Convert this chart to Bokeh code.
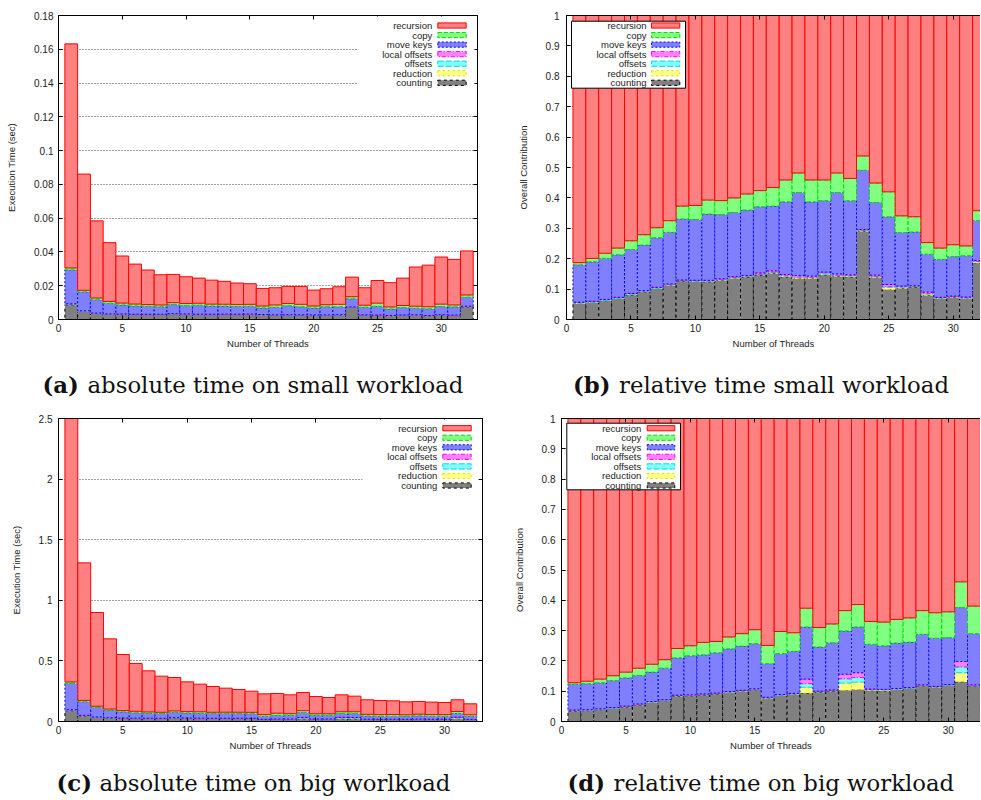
import numpy as np
from bokeh.plotting import figure
from bokeh.models import Range1d, LinearAxis, FixedTicker, BoxAnnotation, Label, ColumnDataSource
from bokeh.layouts import column, row
from bokeh.embed import file_html
from bokeh.resources import INLINE

# ---------------- data ----------------
THREADS = list(range(1, 33))
SERIES = ["counting", "reduction", "offsets", "local_offsets", "move_keys", "copy", "recursion"]
SERIES_LABELS = {"counting": "counting", "reduction": "reduction", "offsets": "offsets",
                 "local_offsets": "local offsets", "move_keys": "move keys", "copy": "copy",
                 "recursion": "recursion"}

X_TICKS = [0, 5, 10, 15, 20, 25, 30]
X_TICK_LABELS = ["0", "5", "10", "15", "20", "25", "30"]
Y_TICKS_SMALL = [0, 0.02, 0.04, 0.06, 0.08, 0.1, 0.12, 0.14, 0.16, 0.18]
Y_LABELS_SMALL = ["0", "0.02", "0.04", "0.06", "0.08", "0.1", "0.12", "0.14", "0.16", "0.18"]
Y_TICKS_BIG = [0, 0.5, 1, 1.5, 2, 2.5]
Y_LABELS_BIG = ["0", "0.5", "1", "1.5", "2", "2.5"]
Y_TICKS_REL = [0, 0.1, 0.2, 0.3, 0.4, 0.5, 0.6, 0.7, 0.8, 0.9, 1]
Y_LABELS_REL = ["0", "0.1", "0.2", "0.3", "0.4", "0.5", "0.6", "0.7", "0.8", "0.9", "1"]

# small workload: share of each phase (panel b) and total time in seconds (panel a)
small_counting = [0.053, 0.056, 0.062, 0.069, 0.081, 0.091, 0.102, 0.113, 0.127, 0.125, 0.124, 0.129,
                  0.135, 0.140, 0.146, 0.152, 0.140, 0.135, 0.135, 0.147, 0.142, 0.140, 0.290, 0.138,
                  0.099, 0.103, 0.107, 0.080, 0.069, 0.073, 0.069, 0.186]
small_reduction = [0.001, 0.001, 0.001, 0.001, 0.001, 0.001, 0.001, 0.001, 0.001, 0.001, 0.002, 0.002,
                   0.002, 0.002, 0.002, 0.003, 0.003, 0.004, 0.003, 0.002, 0.003, 0.003, 0.003, 0.003,
                   0.007, 0.003, 0.002, 0.004, 0.002, 0.002, 0.002, 0.004]
small_offsets = [0.002, 0.002, 0.002, 0.002, 0.003, 0.002, 0.002, 0.002, 0.001, 0.002, 0.001, 0.001,
                 0.001, 0.001, 0.001, 0.001, 0.001, 0.001, 0.001, 0.004, 0.001, 0.001, 0.001, 0.001,
                 0.002, 0.002, 0.001, 0.001, 0.001, 0.001, 0.001, 0.001]
small_local_offsets = [0.001, 0.001, 0.001, 0.001, 0.001, 0.001, 0.001, 0.001, 0.001, 0.001, 0.002, 0.002,
                       0.003, 0.002, 0.004, 0.004, 0.004, 0.005, 0.004, 0.003, 0.004, 0.003, 0.002, 0.004,
                       0.007, 0.002, 0.001, 0.005, 0.001, 0.001, 0.002, 0.003]
small_move_keys = [0.123, 0.130, 0.135, 0.140, 0.144, 0.150, 0.163, 0.170, 0.201, 0.200, 0.218, 0.211,
                   0.211, 0.215, 0.218, 0.213, 0.239, 0.273, 0.244, 0.235, 0.268, 0.244, 0.195, 0.239,
                   0.223, 0.176, 0.177, 0.125, 0.125, 0.130, 0.136, 0.132]
small_copy = [0.007, 0.011, 0.017, 0.022, 0.029, 0.034, 0.033, 0.038, 0.042, 0.046, 0.046, 0.046,
              0.048, 0.053, 0.053, 0.061, 0.072, 0.064, 0.072, 0.068, 0.064, 0.073, 0.047, 0.064,
              0.082, 0.055, 0.050, 0.038, 0.037, 0.039, 0.032, 0.032]
small_recursion = [0.813, 0.799, 0.782, 0.765, 0.741, 0.721, 0.698, 0.675, 0.627, 0.625, 0.607, 0.609,
                   0.600, 0.587, 0.576, 0.566, 0.541, 0.518, 0.541, 0.541, 0.518, 0.536, 0.462, 0.551,
                   0.580, 0.659, 0.662, 0.747, 0.765, 0.754, 0.758, 0.642]
small_total_sec = [0.1632, 0.0861, 0.0584, 0.0455, 0.0376, 0.0328, 0.0293, 0.0265, 0.0267, 0.0253,
                   0.0245, 0.0233, 0.0226, 0.0216, 0.0212, 0.0184, 0.0188, 0.0196, 0.0196, 0.0174,
                   0.0182, 0.0194, 0.0251, 0.0188, 0.0231, 0.0218, 0.0245, 0.0311, 0.0322, 0.0370,
                   0.0356, 0.0406]

# big workload: share of each phase (panel d) and total time in seconds (panel c)
big_counting = [0.035, 0.036, 0.039, 0.043, 0.048, 0.055, 0.063, 0.069, 0.084, 0.085, 0.088, 0.091,
                0.096, 0.100, 0.105, 0.077, 0.086, 0.090, 0.094, 0.097, 0.101, 0.103, 0.106, 0.102,
                0.101, 0.106, 0.109, 0.118, 0.113, 0.119, 0.131, 0.118]
big_reduction = [0.001, 0.001, 0.001, 0.001, 0.001, 0.001, 0.001, 0.001, 0.001, 0.001, 0.001, 0.001,
                 0.001, 0.001, 0.001, 0.001, 0.001, 0.001, 0.019, 0.001, 0.001, 0.024, 0.024, 0.003,
                 0.003, 0.001, 0.001, 0.001, 0.001, 0.001, 0.030, 0.001]
big_offsets = [0.001, 0.001, 0.001, 0.001, 0.001, 0.001, 0.001, 0.001, 0.001, 0.001, 0.001, 0.001,
               0.001, 0.001, 0.001, 0.001, 0.001, 0.001, 0.012, 0.001, 0.001, 0.014, 0.015, 0.001,
               0.001, 0.001, 0.001, 0.001, 0.001, 0.001, 0.019, 0.001]
big_local_offsets = [0.001, 0.001, 0.001, 0.001, 0.001, 0.001, 0.001, 0.001, 0.001, 0.001, 0.001, 0.001,
                     0.001, 0.001, 0.001, 0.001, 0.001, 0.001, 0.015, 0.001, 0.001, 0.015, 0.016, 0.001,
                     0.001, 0.001, 0.001, 0.001, 0.001, 0.001, 0.018, 0.001]
big_move_keys = [0.085, 0.086, 0.086, 0.089, 0.093, 0.094, 0.097, 0.104, 0.123, 0.129, 0.129, 0.133,
                 0.141, 0.146, 0.149, 0.111, 0.135, 0.139, 0.172, 0.146, 0.156, 0.143, 0.151, 0.148,
                 0.144, 0.150, 0.150, 0.167, 0.159, 0.155, 0.178, 0.169]
big_copy = [0.005, 0.008, 0.012, 0.016, 0.019, 0.024, 0.026, 0.028, 0.031, 0.033, 0.041, 0.037,
            0.039, 0.041, 0.046, 0.060, 0.073, 0.061, 0.062, 0.064, 0.062, 0.067, 0.074, 0.075,
            0.078, 0.078, 0.080, 0.078, 0.084, 0.085, 0.085, 0.091]
big_recursion = [0.872, 0.867, 0.860, 0.849, 0.837, 0.824, 0.811, 0.796, 0.759, 0.750, 0.739, 0.736,
                 0.721, 0.710, 0.697, 0.749, 0.703, 0.707, 0.626, 0.690, 0.678, 0.634, 0.614, 0.670,
                 0.672, 0.663, 0.658, 0.634, 0.641, 0.638, 0.539, 0.619]
big_total_sec = [2.55, 1.309, 0.899, 0.682, 0.553, 0.479, 0.418, 0.374, 0.363, 0.327, 0.308, 0.289,
                 0.275, 0.264, 0.250, 0.228, 0.231, 0.220, 0.239, 0.206, 0.198, 0.220, 0.209, 0.179,
                 0.173, 0.171, 0.162, 0.165, 0.160, 0.157, 0.179, 0.146]

small_share = dict(zip(SERIES, [small_counting, small_reduction, small_offsets, small_local_offsets,
                                small_move_keys, small_copy, small_recursion]))
big_share = dict(zip(SERIES, [big_counting, big_reduction, big_offsets, big_local_offsets,
                              big_move_keys, big_copy, big_recursion]))

# ---------------- styles ----------------
STYLE = {  # fill, line, dash
    "recursion": ("#ff8080", "#ff0000", "solid"),
    "copy": ("#80ff80", "#00dd00", "4 2"),
    "move_keys": ("#8080ff", "#0000ff", "2 2"),
    "local_offsets": ("#ff80ff", "#ff00ff", "4 2 1 2"),
    "offsets": ("#80ffff", "#00dddd", "6 2"),
    "reduction": ("#ffff80", "#dddd00", "2 3"),
    "counting": ("#808080", "#000000", "3 3"),
}
SANS = "Liberation Sans"
SERIF = "DejaVu Serif"
CAPTION_SIZE = "22.8px"


def absolute(share, total):
    t = np.array(total)
    return {k: np.array(v) * t for k, v in share.items()}


def relative(share):
    s = sum(np.array(v) for v in share.values())
    return {k: np.array(v) / s for k, v in share.items()}


def style_axis(ax):
    ax.major_tick_in = 4
    ax.major_tick_out = 0
    ax.minor_tick_line_color = None
    ax.axis_line_color = "black"
    ax.axis_line_width = 1
    ax.major_tick_line_color = "black"
    ax.major_label_text_font = SANS
    ax.major_label_text_font_size = "10px"
    ax.major_label_text_color = "#222222"
    ax.axis_label_text_font = SANS
    ax.axis_label_text_font_size = "9.5px"
    ax.axis_label_text_font_style = "normal"
    ax.axis_label_text_color = "#222222"


def make_panel(values, spec, ylabel, yticks, ylabels, leg):
    fl, ft, fw, fh = spec["frame"]
    x1, y1 = spec["x1"], spec["y1"]
    p = figure(width=spec["w"], height=spec["h"], x_range=Range1d(0, x1), y_range=Range1d(0, y1),
               output_backend="svg", toolbar_location=None, title=None,
               min_border_left=spec["bl"], min_border_right=spec["br"],
               min_border_top=spec["bt"], min_border_bottom=spec["bb"])
    p.outline_line_color = "black" if spec["outline"] else None
    p.background_fill_color = "white"
    p.border_fill_color = "white"

    xt = FixedTicker(ticks=X_TICKS)
    yt = FixedTicker(ticks=yticks)

    xa = p.xaxis[0]
    xa.ticker = xt
    xa.major_label_overrides = dict(zip(X_TICKS, X_TICK_LABELS))
    xa.axis_label = "Number of Threads"
    style_axis(xa)
    xa.major_label_standoff = 4
    xa.axis_label_standoff = 3

    ya = p.yaxis[0]
    ya.ticker = yt
    ya.major_label_overrides = dict(zip(yticks, ylabels))
    ya.axis_label = ylabel
    style_axis(ya)
    ya.major_label_standoff = spec["ystand"]
    ya.axis_label_standoff = 14

    top = LinearAxis(ticker=xt, major_label_overrides={t: "" for t in X_TICKS})
    style_axis(top)
    top.major_label_standoff = 0
    p.add_layout(top, "above")
    if spec["right_axis"]:
        ra = LinearAxis(ticker=yt, major_label_overrides={t: "" for t in yticks})
        style_axis(ra)
        ra.major_label_standoff = 0
        p.add_layout(ra, "right")

    p.xgrid.visible = False
    p.ygrid.ticker = yt
    p.ygrid.grid_line_color = "#444444"
    p.ygrid.grid_line_dash = "1 2"
    p.ygrid.grid_line_width = 1

    data = {"x": THREADS}
    data.update({k: list(v) for k, v in values.items()})
    src = ColumnDataSource(data)
    p.vbar_stack(SERIES, x="x", width=1, source=src,
                 fill_color=[STYLE[s][0] for s in SERIES],
                 line_color=[STYLE[s][1] for s in SERIES],
                 line_dash=[STYLE[s][2] for s in SERIES],
                 fill_alpha=1, line_width=1)

    # legend (text left of key, as in the original); positions given in page pixels
    def dx(px):
        return (px - fl) / fw * x1

    def dy(py):
        return (ft + fh - py) / fh * y1

    bl, br, btop, bbot = leg["box"]
    p.add_layout(BoxAnnotation(left=dx(bl), right=dx(br), top=dy(btop), bottom=dy(bbot),
                               fill_color="white", fill_alpha=1,
                               line_color="black" if leg["boxed"] else None, line_alpha=1, line_width=1))
    for i, s in enumerate(reversed(SERIES)):
        yc = leg["row0"] + i * 9.55
        p.add_layout(Label(x=dx(leg["text_right"]), y=dy(yc), text=SERIES_LABELS[s],
                           text_align="right", text_baseline="middle",
                           text_font=SANS, text_font_size="9.5px", text_color="#222222"))
        p.add_layout(BoxAnnotation(left=dx(leg["sw"][0]), right=dx(leg["sw"][1]),
                                   top=dy(yc - 2.6), bottom=dy(yc + 2.6),
                                   fill_color=STYLE[s][0], fill_alpha=1,
                                   line_color=STYLE[s][1], line_alpha=1,
                                   line_dash=STYLE[s][2], line_width=1))
    return p


def make_caption(w, h, x_bold, x_text, y, bold, text):
    c = figure(width=w, height=h, x_range=Range1d(0, w), y_range=Range1d(0, h),
               output_backend="svg", toolbar_location=None, title=None, min_border=0,
               x_axis_location=None, y_axis_location=None)
    c.outline_line_color = None
    c.xgrid.visible = False
    c.ygrid.visible = False
    c.add_layout(Label(x=x_bold, y=y, text=bold, text_font=SERIF, text_font_style="bold",
                       text_font_size=CAPTION_SIZE, text_color="#111111", text_baseline="alphabetic"))
    c.add_layout(Label(x=x_text, y=y, text=text, text_font=SERIF,
                       text_font_size=CAPTION_SIZE, text_color="#111111", text_baseline="alphabetic"))
    return c


# page geometry (page px, page origin at 0,0)
SPEC_A = dict(w=490, h=352, bl=58, br=13, bt=15, bb=33, frame=(58, 15, 419, 304),
              x1=419 / 12.76, y1=0.18, outline=True, right_axis=True, ystand=5)
SPEC_B = dict(w=490, h=352, bl=76, br=0, bt=15, bb=33, frame=(566, 15, 414, 304),
              x1=414 / 12.89, y1=1.0, outline=False, right_axis=False, ystand=7)
SPEC_C = dict(w=490, h=344, bl=58, br=8, bt=8, bb=33, frame=(58, 418, 424, 303),
              x1=424 / 12.87, y1=2.5, outline=True, right_axis=True, ystand=6)
SPEC_D = dict(w=490, h=344, bl=71, br=0, bt=8, bb=33, frame=(561, 418, 419, 303),
              x1=419 / 12.89, y1=1.0, outline=False, right_axis=False, ystand=6)

LEG_A = dict(box=(357, 474, 16, 88), boxed=False, row0=25, text_right=431.7, sw=(437.3, 465.7))
LEG_B = dict(box=(571, 685, 20.7, 87.7), boxed=True, row0=25, text_right=646, sw=(651, 679.3))
LEG_C = dict(box=(362, 478, 419, 491), boxed=False, row0=427.7, text_right=436.7, sw=(442.3, 470.7))
LEG_D = dict(box=(566.3, 680, 422.7, 489.3), boxed=True, row0=427.7, text_right=640.7, sw=(646.7, 674.3))

pa = make_panel(absolute(small_share, small_total_sec), SPEC_A, "Execution Time (sec)",
                Y_TICKS_SMALL, Y_LABELS_SMALL, LEG_A)
pb = make_panel(relative(small_share), SPEC_B, "Overall Contribution", Y_TICKS_REL, Y_LABELS_REL, LEG_B)
pc = make_panel(absolute(big_share, big_total_sec), SPEC_C, "Execution Time (sec)",
                Y_TICKS_BIG, Y_LABELS_BIG, LEG_C)
pd_ = make_panel(relative(big_share), SPEC_D, "Overall Contribution", Y_TICKS_REL, Y_LABELS_REL, LEG_D)

# captions: row 1 figure spans page y 352-410, row 2 spans 754-799
cap_a = make_caption(490, 58, 42, 87, 26, "(a)", "absolute time on small workload")
cap_b = make_caption(490, 58, 82.5, 128.5, 26, "(b)", "relative time small workload")
cap_c = make_caption(490, 45, 56, 99, 17, "(c)", "absolute time on big worlkoad")
cap_d = make_caption(490, 45, 77, 123, 17, "(d)", "relative time on big workload")

layout = column(row(pa, pb), row(cap_a, cap_b), row(pc, pd_), row(cap_c, cap_d))

open("out.html", "w").write(file_html(layout, INLINE, title="Radix sort phases"))
